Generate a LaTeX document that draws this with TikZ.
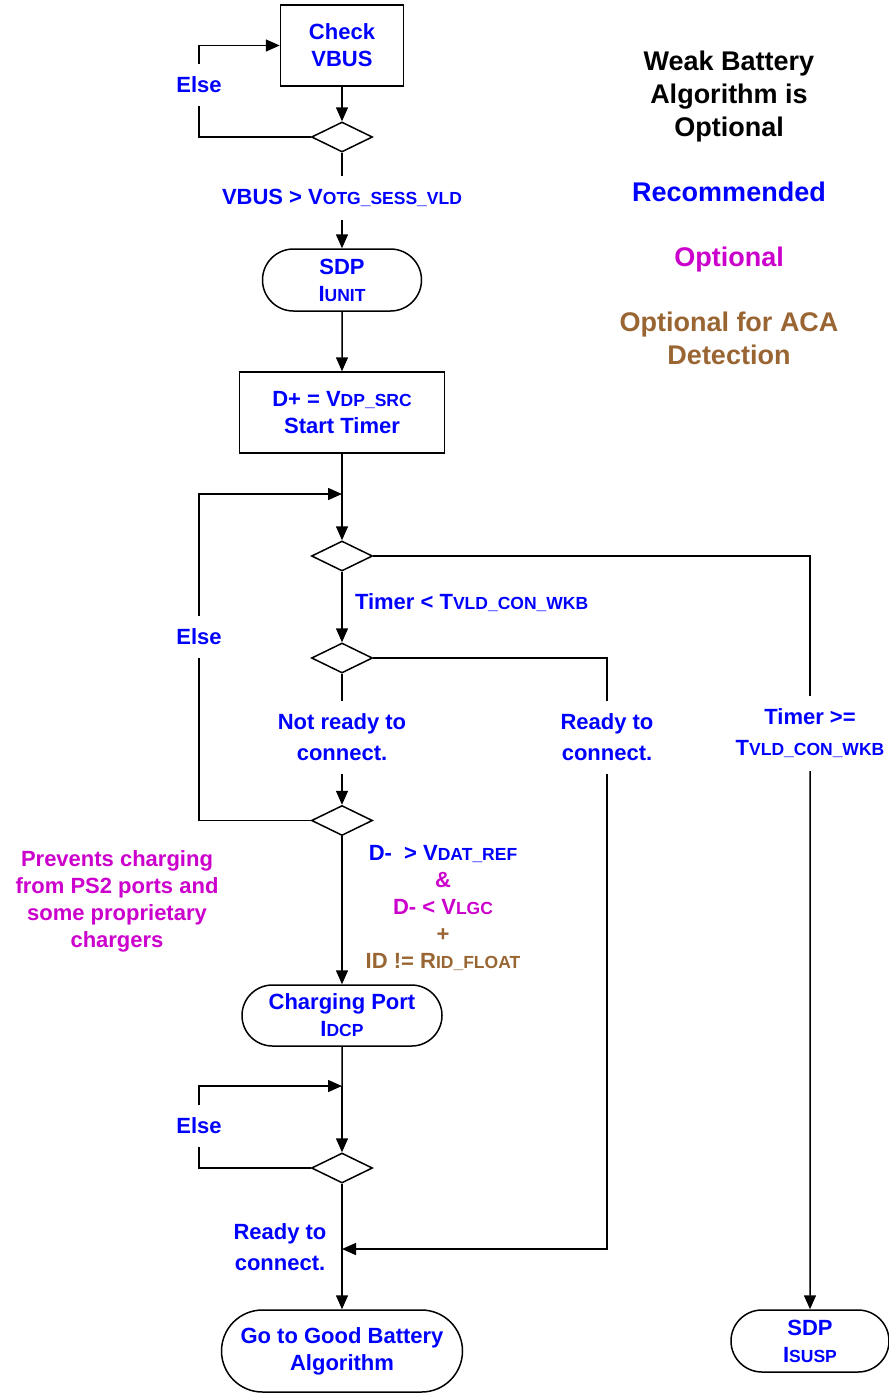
\documentclass[tikz,border=0pt]{standalone}
\usepackage{fontspec}
\setmainfont{Liberation Sans}
\usetikzlibrary{shapes.geometric,shapes.misc,arrows.meta}

\definecolor{recblue}{RGB}{0,0,255}
\definecolor{optmagenta}{RGB}{204,0,204}
\definecolor{acabrown}{RGB}{153,102,51}
\newcommand{\lowcaps}[1]{{\fontsize{17.5}{17.5}\selectfont #1}}

\begin{document}
\begin{tikzpicture}
                [
                    x=1pt, y=-1pt,
                    >={Triangle[length=14pt,width=12pt]},
                    line width=1.5pt,
                    font=\bfseries\fontsize{22}{27}\selectfont,
                    process/.style={draw, rectangle, text=recblue, align=center, inner sep=2pt},
                    terminal/.style={draw, rounded rectangle, text=recblue, align=center, inner sep=2pt},
                    decision/.style={draw, diamond, minimum width=61pt, minimum height=30pt, inner sep=0pt},
                    branch label/.style={text=recblue, align=center, inner sep=4pt, outer sep=9pt},
                    free label/.style={align=center, inner sep=0pt},
                    legend/.style={align=center, inner sep=0pt, font=\bfseries\fontsize{27}{33}\selectfont}
                ]
                \useasboundingbox (0,0) rectangle (889,1393);

                % main column
                \node (check) [process, minimum width=123pt, minimum height=81pt] at (342,45.5)
                      {Check\\VBUS};
                \node (d1) [decision, below of=check, node distance=91.5pt] {};
                \node (vbus) [branch label, below of=d1, node distance=61pt]
                      {VBUS > V\lowcaps{OTG\_SESS\_VLD}};
                \node (sdpunit) [terminal, below of=vbus, node distance=82pt,
                                 minimum width=163pt, minimum height=62pt]
                      {SDP\\I\lowcaps{UNIT}};
                \node (dpsrc) [process, below of=sdpunit, node distance=132.5pt,
                               minimum width=205pt, minimum height=81pt]
                      {D+ = V\lowcaps{DP\_SRC}\\Start Timer};
                \node (j1) [coordinate, below of=dpsrc, node distance=81.5pt] {};
                \node (d2) [decision, below of=j1, node distance=62pt] {};
                \node (tless) [branch label, below of=d2, node distance=47pt, xshift=9pt,
                               anchor=west, outer sep=0pt]
                      {Timer < T\lowcaps{VLD\_CON\_WKB}};
                \node (d3) [decision, below of=d2, node distance=102pt] {};
                \node (notrdy) [branch label, below of=d3, node distance=79.5pt,
                                font=\bfseries\fontsize{22}{31}\selectfont]
                      {Not ready to\\connect.};
                \node (d4) [decision, below of=notrdy, node distance=83pt] {};
                \node (cond) [free label, below of=d4, node distance=87pt, xshift=101pt]
                      {{\color{recblue}D-\ \ > V\lowcaps{DAT\_REF}}\\
                       {\color{optmagenta}\&}\\
                       {\color{optmagenta}D- < V\lowcaps{LGC}}\\
                       {\color{acabrown}+}\\
                       {\color{acabrown}ID != R\lowcaps{ID\_FLOAT}}};
                \node (prev) [free label, text=optmagenta, below of=d4, node distance=81pt, xshift=-225pt]
                      {Prevents charging\\from PS2 ports and\\some proprietary\\chargers};
                \node (chgport) [terminal, below of=d4, node distance=195pt,
                                 minimum width=204pt, minimum height=61pt]
                      {Charging Port\\I\lowcaps{DCP}};
                \node (j2) [coordinate, below of=chgport, node distance=70.5pt] {};
                \node (d5) [decision, below of=j2, node distance=82pt] {};
                \node (rdy2) [free label, text=recblue, below of=d5, node distance=79.5pt, xshift=-62pt,
                              font=\bfseries\fontsize{22}{31}\selectfont]
                      {Ready to\\connect.};
                \node (j3) [coordinate, below of=d5, node distance=81pt] {};
                \node (goodbat) [terminal, below of=j3, node distance=102pt,
                                 minimum width=245pt, minimum height=82pt]
                      {Go to Good Battery\\Algorithm};

                % loop labels
                \node (else1) [branch label, left of=d1, node distance=143pt, yshift=52pt] {Else};
                \node (else2) [branch label, left of=d3, node distance=143pt, yshift=21pt] {Else};
                \node (else3) [branch label, left of=d5, node distance=143pt, yshift=42pt] {Else};

                % right branches
                \node (rdy1) [branch label, right of=notrdy, node distance=265pt,
                              font=\bfseries\fontsize{22}{31}\selectfont]
                      {Ready to\\connect.};
                \node (tge) [branch label, right of=rdy1, node distance=203pt, yshift=4pt,
                             font=\bfseries\fontsize{22}{31}\selectfont]
                      {Timer >=\\T\lowcaps{VLD\_CON\_WKB}};
                \node (sdpsusp) [terminal, below of=tge, node distance=607.5pt,
                                 minimum width=162pt, minimum height=62pt]
                      {SDP\\I\lowcaps{SUSP}};

                % legend
                \node (weak) [legend, right of=check, node distance=387pt, yshift=-51pt]
                      {Weak Battery\\Algorithm is\\Optional};
                \node (rec) [legend, text=recblue, below of=weak, node distance=95.5pt] {Recommended};
                \node (opt) [legend, text=optmagenta, below of=rec, node distance=68pt] {Optional};
                \node (aca) [legend, text=acabrown, below of=opt, node distance=78.5pt]
                      {Optional for ACA\\Detection};

                \path
                (check)   edge [->] (d1)
                (d1)      edge      (vbus)
                (vbus)    edge [->] (sdpunit)
                (sdpunit) edge [->] (dpsrc)
                (dpsrc)   edge      (j1)
                (j1)      edge [->] (d2)
                (d2)      edge [->] (d3)
                (d3)      edge      (notrdy)
                (notrdy)  edge [->] (d4)
                (d4)      edge [->] (chgport)
                (chgport) edge      (j2)
                (j2)      edge [->] (d5)
                (d5)      edge      (j3)
                (j3)      edge [->] (goodbat)
                (tge)     edge [->] (sdpsusp)
                ;

                \draw (d1.west) -| (else1);
                \draw [->] (else1) |- (check.west);
                \draw (d4.west) -| (else2);
                \draw [->] (else2) |- (j1);
                \draw (d5.west) -| (else3);
                \draw [->] (else3) |- (j2);
                \draw (d2.east) -| (tge);
                \draw (d3.east) -| (rdy1);
                \draw [->] (rdy1) |- (j3);

\end{tikzpicture}
\end{document}
